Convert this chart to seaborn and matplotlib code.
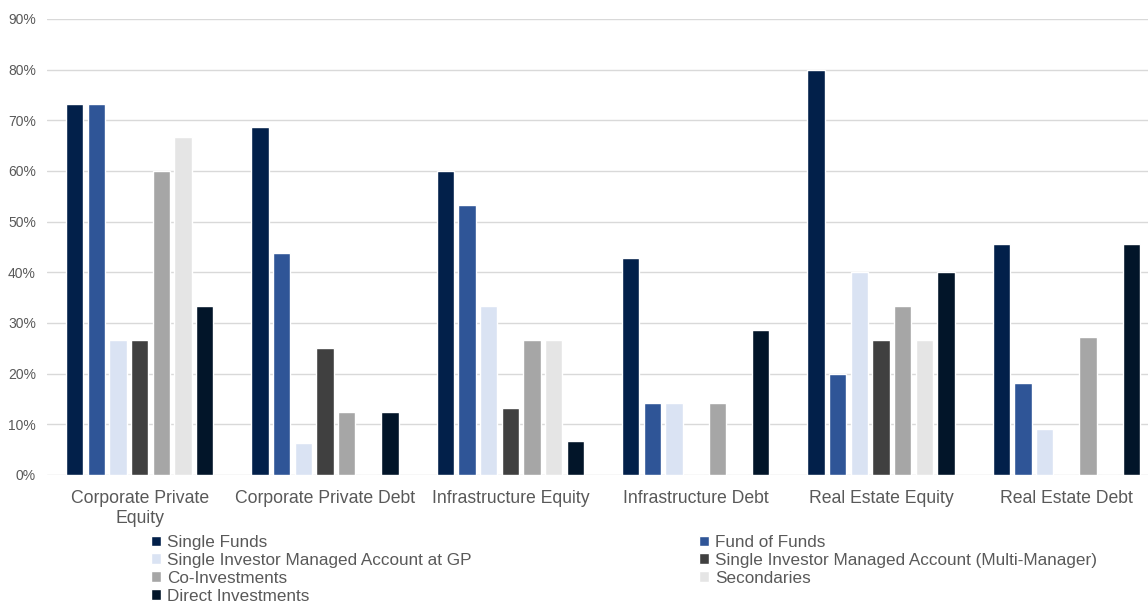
import matplotlib
matplotlib.use("Agg")
import matplotlib.pyplot as plt
import seaborn as sns
import pandas as pd
from matplotlib.ticker import PercentFormatter

categories = ["Corporate Private\nEquity", "Corporate Private Debt", "Infrastructure Equity",
              "Infrastructure Debt", "Real Estate Equity", "Real Estate Debt"]
series_names = ["Single Funds", "Fund of Funds", "Single Investor Managed Account at GP",
                "Single Investor Managed Account (Multi-Manager)", "Co-Investments",
                "Secondaries", "Direct Investments"]
single_funds = [73.3, 68.75, 60.0, 42.9, 80.0, 45.5]
fund_of_funds = [73.3, 43.75, 53.3, 14.3, 20.0, 18.2]
sima_gp = [26.7, 6.25, 33.3, 14.3, 40.0, 9.1]
sima_multi = [26.7, 25.0, 13.3, 0.0, 26.7, 0.0]
co_investments = [60.0, 12.5, 26.7, 14.3, 33.3, 27.3]
secondaries = [66.7, 0.0, 26.7, 0.0, 26.7, 0.0]
direct_investments = [33.3, 12.5, 6.7, 28.6, 40.0, 45.5]
colors = ["#02204A", "#2F5597", "#DAE3F3", "#404040", "#A6A6A6", "#E5E5E5", "#021529"]

values = [single_funds, fund_of_funds, sima_gp, sima_multi, co_investments, secondaries, direct_investments]
rows = []
for name, vals in zip(series_names, values):
    for c, v in zip(categories, vals):
        rows.append({"category": c, "series": name, "value": v})
df = pd.DataFrame(rows)

sns.set_style("white")
plt.rcParams["font.family"] = ["Liberation Sans", "DejaVu Sans"]

fig = plt.figure(figsize=(11.48, 6.04), dpi=100)
ax = fig.add_axes([47/1148, 1 - 475/604, 1112/1148, (475 - 19)/604])
sns.barplot(data=df, x="category", y="value", hue="series", hue_order=series_names,
            order=categories, palette=colors, width=0.818, gap=0.21, ax=ax,
            saturation=1, errorbar=None, legend=True)
handles, labels = ax.get_legend_handles_labels()
ax.get_legend().remove()

ax.set_ylim(0, 90)
ax.set_xlim(-0.5, 5.5)
ax.set_yticks(range(0, 91, 10))
ax.yaxis.set_major_formatter(PercentFormatter(decimals=0))
ax.grid(axis="y", color="#D9D9D9", linewidth=1)
ax.set_axisbelow(True)
for s in ax.spines.values():
    s.set_visible(False)
ax.tick_params(axis="both", length=0)
ax.tick_params(axis="y", labelsize=10, labelcolor="#595959", pad=8)
ax.tick_params(axis="x", labelsize=12.7, labelcolor="#595959", pad=11)
ax.set_xlabel("")
ax.set_ylabel("")

order_left = [0, 2, 4, 6]
order_right = [1, 3, 5]
kw = dict(frameon=False, fontsize=12.3, handlelength=0.6, handleheight=0.6,
          handletextpad=0.35, labelspacing=0.17, borderaxespad=0, borderpad=0)
leg1 = fig.legend([handles[i] for i in order_left], [labels[i] for i in order_left],
                  loc="upper left", bbox_to_anchor=(151/1148, 1 - 535/604), **kw)
leg2 = fig.legend([handles[i] for i in order_right], [labels[i] for i in order_right],
                  loc="upper left", bbox_to_anchor=(699/1148, 1 - 535/604), **kw)
for leg in (leg1, leg2):
    for t in leg.get_texts():
        t.set_color("#595959")

fig.savefig("out.png", dpi=100)
